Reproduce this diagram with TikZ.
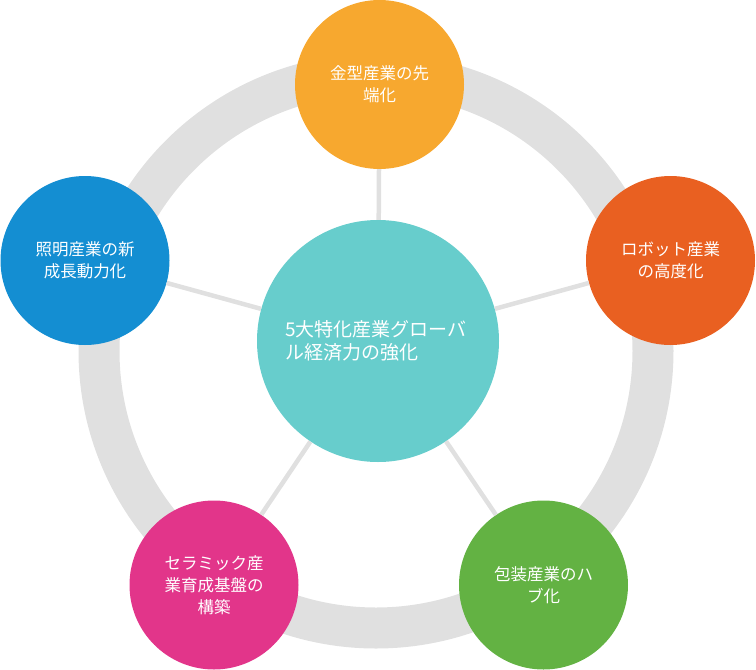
\documentclass[tikz,border=0pt]{standalone}
\usepackage{fontspec}
\setmainfont{Noto Sans CJK JP}
\usetikzlibrary{calc}
\definecolor{ringc}{HTML}{E0E0E0}
\definecolor{hubc}{HTML}{67CDCC}
\definecolor{moldc}{HTML}{F7A82F}
\definecolor{robotc}{HTML}{E96021}
\definecolor{lightc}{HTML}{148ED2}
\definecolor{ceramc}{HTML}{E2358A}
\definecolor{packc}{HTML}{63B243}

\begin{document}
\begin{tikzpicture}[x=1pt, y=-1pt,
  leaf/.style={circle, minimum size=169pt, inner sep=0, text=white,
    align=center, font=\fontsize{16.5}{22}\selectfont},
  spoke/.style={draw=ringc, line width=4.5pt}]

\useasboundingbox (0,0) rectangle (756,670);

\def\rx{376}
\def\ry{351}

% grey ring behind everything
\coordinate (ringmid) at (\rx,\ry);
\draw[ringc, line width=41pt] (ringmid) circle (277);

\node[circle, fill=hubc, minimum size=242pt, inner sep=0, text=white,
      text width=190pt, align=left,
      font=\fontsize{19}{23.5}\selectfont] (hub) at (378,341)
  {\hspace*{2pt}5大特化産業グローバ\\\hspace*{2pt}ル経済力の強化};

% outer themes: name/x/y/colour/text
\foreach \n/\x/\y/\c/\txt in {%
  mold/379.5/84.5/moldc/{金型産業の先\\端化},
  robot/670.5/260.5/robotc/{ロボット産業\\の高度化},
  light/85/260.5/lightc/{照明産業の新\\成長動力化},
  ceram/214/585/ceramc/{セラミック産\\業育成基盤の\\構築},
  pack/543.5/585/packc/{包装産業のハ\\ブ化}%
}{
  \node[leaf, fill=\c] (\n) at (\x,\y) {\txt};
  \draw[spoke] (hub) -- (\n);
}

\end{tikzpicture}
\end{document}
